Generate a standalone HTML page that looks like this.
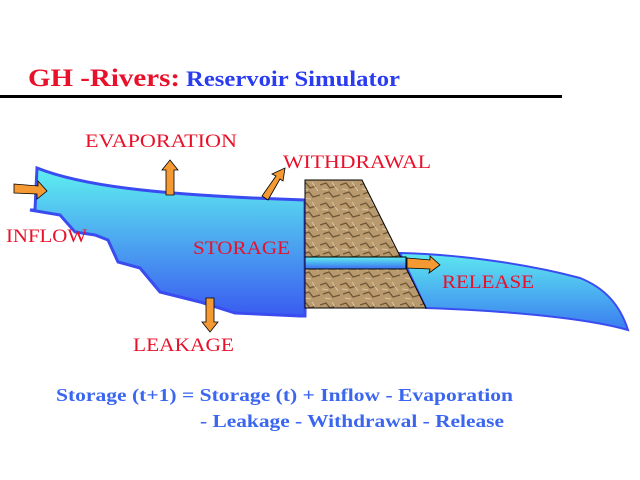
<!DOCTYPE html>
<html><head><style>
html,body{margin:0;padding:0;background:#fff;width:640px;height:480px;overflow:hidden}
svg{display:block}
text{font-family:"Liberation Serif",serif}
</style></head><body>
<svg width="640" height="480" viewBox="0 0 640 480" xmlns="http://www.w3.org/2000/svg">
<defs>
<linearGradient id="w" x1="0" y1="0" x2="0" y2="1">
<stop offset="0" stop-color="#5ef0f0"/><stop offset="1" stop-color="#3a5cf0"/></linearGradient>
<linearGradient id="w2" x1="0" y1="0" x2="0" y2="1">
<stop offset="0" stop-color="#5ee8f0"/><stop offset="1" stop-color="#3a7cf0"/></linearGradient>
<linearGradient id="p" x1="0" y1="0" x2="0" y2="1">
<stop offset="0" stop-color="#5ef0f0"/><stop offset="1" stop-color="#3a6cf0"/></linearGradient>
<pattern id="rock" width="20" height="20" patternUnits="userSpaceOnUse">
<rect width="20" height="20" fill="#b99a6e"/>
<path d="M0 5 L6 3 L10 8 L16 6 M3 14 L9 12 L13 17 L20 15" stroke="#6e5536" stroke-width="1.3" fill="none"/>
<path d="M2 9 L8 10 M12 2 L18 11 M5 18 L11 19" stroke="#dcc6a0" stroke-width="1" fill="none"/>
</pattern>
</defs>
<text x="28" y="86" font-size="25" font-weight="bold" fill="#e8102a" textLength="152" lengthAdjust="spacingAndGlyphs">GH -Rivers:</text>
<text x="186" y="86" font-size="22" font-weight="bold" fill="#2a3cf0" textLength="214" lengthAdjust="spacingAndGlyphs">Reservoir Simulator</text>
<rect x="0" y="95" width="562" height="3" fill="#000"/>

<path d="M400 253 C450 254 520 262 580 278 C605 288 620 305 628 330 C600 322 540 312 426 308 Z" fill="url(#w2)" stroke="#3a4cf0" stroke-width="2"/>
<path d="M37 168 C80 185 150 195 305 200 L305 316 L300 316 L235 313 L200 302 L160 292 L150 280 L140 268 L118 262 L108 240 L95 235 L75 232 L60 215 L30 210 L35 210 Z" fill="url(#w)" stroke="#3a4cf0" stroke-width="3"/>
<polygon points="305,180 362,180 426,308 305,308" fill="url(#rock)" stroke="#000" stroke-width="1"/>
<rect x="305" y="257" width="101" height="12" fill="url(#p)" stroke="#000" stroke-width="1"/>

<g fill="#f59a32" stroke="#000" stroke-width="0.8">
<polygon points="14,184 38,186 38,181 47,191 37,199 37,194 14,193"/>
<polygon points="166,195 166,170 162,170 170,160 178,170 174,170 174,195"/>
<polygon points="262,196 276,176 272,174 285,168 283,181 280,179 268,200"/>
<polygon points="206,298 214,298 214,322 218,322 210,332 202,322 206,322"/>
<polygon points="407,258 430,260 430,256 440,265 429,273 430,269 407,268"/>
</g>

<g font-size="19" fill="#e8102a" lengthAdjust="spacingAndGlyphs">
<text x="85" y="147" textLength="152" lengthAdjust="spacingAndGlyphs">EVAPORATION</text>
<text x="283" y="168" textLength="148" lengthAdjust="spacingAndGlyphs">WITHDRAWAL</text>
<text x="6" y="242" textLength="81" lengthAdjust="spacingAndGlyphs">INFLOW</text>
<text x="193" y="254" textLength="97" lengthAdjust="spacingAndGlyphs">STORAGE</text>
<text x="442" y="288" textLength="92" lengthAdjust="spacingAndGlyphs">RELEASE</text>
<text x="133" y="351" textLength="101" lengthAdjust="spacingAndGlyphs">LEAKAGE</text>
</g>
<g font-size="18" font-weight="bold" fill="#3a66f0">
<text x="56" y="401" textLength="457" lengthAdjust="spacingAndGlyphs">Storage (t+1) = Storage (t) +  Inflow - Evaporation</text>
<text x="200" y="427" textLength="304" lengthAdjust="spacingAndGlyphs">- Leakage - Withdrawal - Release</text>
</g>
</svg>
</body></html>
